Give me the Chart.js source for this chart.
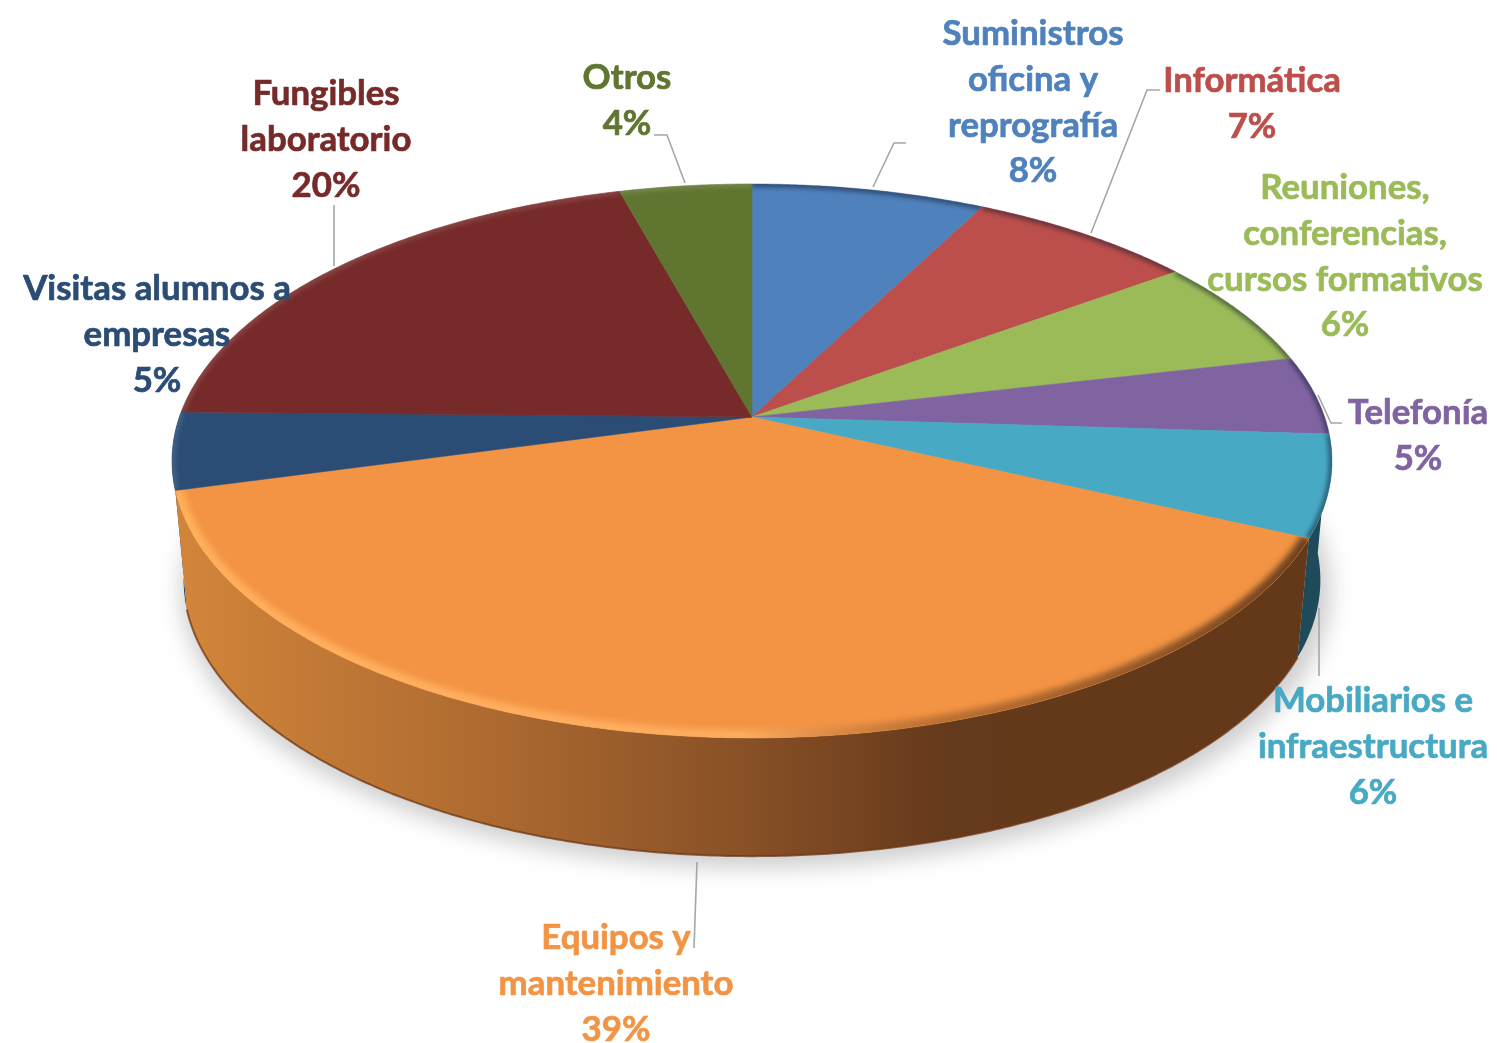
<!DOCTYPE html>
<html>
<head>
<meta charset="utf-8">
<title>Gastos</title>
<script src="https://cdn.jsdelivr.net/npm/chart.js@4"></script>
<style>
  html, body { margin: 0; padding: 0; background: #fff; }
  canvas { display: block; }
</style>
</head>
<body>
<canvas id="pieChart" width="1497" height="1043"></canvas>
<script>
const categories = [
  'Suministros\noficina y\nreprografía',
  'Informática',
  'Reuniones,\nconferencias,\ncursos formativos',
  'Telefonía',
  'Mobiliarios e\ninfraestructura',
  'Equipos y\nmantenimiento',
  'Visitas alumnos a\nempresas',
  'Fungibles\nlaboratorio',
  'Otros'
];
// slice sizes as measured on the picture; the labels print the rounded figure
const values = [7.6, 7.4, 6.4, 4.6, 5.9, 38.9, 4.5, 20.4, 4.3];
const percentLabels = ['8%', '7%', '6%', '5%', '6%', '39%', '5%', '20%', '4%'];
const colors = ['#4f81bd', '#bc4e4b', '#9bbb59', '#8064a2', '#48a9c4', '#f39444', '#2b4c74', '#772a2a', '#5f7530'];
const sideColors = ['#2c4a6c', '#6c2c2b', '#586a33', '#49395c', '#1f4a5a', null, '#1d3757', '#441818', '#36431b'];

// where each label block sits: centre x, centre y of the first line
const labelPlaces = [[1033, 34], [1252, 81], [1345, 188], [1418, 413], [1373, 701], [616, 938], [157, 289], [326, 94], [627, 78]];
const leaderLines = [
  [[873, 187], [894, 143], [906, 143]],
  [[1091, 233], [1147, 90], [1160, 90]],
  [[1318, 395], [1331, 423], [1342, 423]],
  [[1319, 608], [1319, 676]],
  [[697, 862], [694, 948]],
  [[334, 205], [334, 266]],
  [[685, 183], [667, 135], [654, 135]]
];

// tilted disc: perspective of a flat circle, so the tip is not the ellipse centre
const tip = { x: 752, y: 417 };
const persp = 0.1588, spanX = 572.6, spanY = 270;
const topMidY = 461, bottomMidY = 580, bottomX = 0.98, bottomY = 0.997;

const lineGap = 45.7;

function onTop(a) {
  const th = a + Math.PI / 2;
  const x = Math.sin(th), y = -Math.cos(th);
  const d = 1 - persp * y;
  return { x: tip.x + spanX * x / d, y: tip.y + spanY * y / d };
}

function onBottom(a) {
  const p = onTop(a);
  return { x: tip.x + (p.x - tip.x) * bottomX, y: bottomMidY + (p.y - topMidY) * bottomY };
}

function rimPath(ctx, from, to, fn, first) {
  const n = Math.max(4, Math.ceil(Math.abs(to - from) / 0.008));
  for (let i = 0; i <= n; i++) {
    const p = fn(from + (to - from) * i / n);
    if (i === 0 && first) ctx.moveTo(p.x, p.y);
    else ctx.lineTo(p.x, p.y);
  }
}

function slicePath(ctx, arc) {
  ctx.beginPath();
  ctx.moveTo(tip.x, tip.y);
  rimPath(ctx, arc.startAngle, arc.endAngle, onTop, false);
  ctx.closePath();
}

function sidePath(ctx, from, to) {
  ctx.beginPath();
  rimPath(ctx, from, to, onTop, true);
  rimPath(ctx, to, from, onBottom, false);
  ctx.closePath();
}

function drawShadow(ctx) {
  ctx.save();
  ctx.filter = 'blur(11px)';
  ctx.fillStyle = 'rgba(110,110,115,0.34)';
  ctx.beginPath();
  ctx.ellipse(756, bottomMidY + 11, 575, 277, 0, 0, Math.PI * 2);
  ctx.fill();
  ctx.restore();
}

function drawSides(ctx, arcs) {
  const front = [6, 4, 5];
  front.forEach(i => {
    const arc = arcs[i];
    const from = arc.startAngle, to = arc.endAngle;
    sidePath(ctx, from, to);
    if (sideColors[i]) {
      ctx.fillStyle = sideColors[i];
    } else {
      const g = ctx.createLinearGradient(184, 0, 1300, 0);
      g.addColorStop(0, '#d2853a');
      g.addColorStop(0.283, '#ac6930');
      g.addColorStop(0.507, '#875026');
      g.addColorStop(0.686, '#65391b');
      g.addColorStop(1, '#63391a');
      ctx.fillStyle = g;
    }
    ctx.fill();
    if (!sideColors[i]) {
      ctx.beginPath();
      rimPath(ctx, from, to, onBottom, true);
      ctx.strokeStyle = 'rgba(110,55,20,0.75)';
      ctx.lineWidth = 2;
      ctx.stroke();
    }
  });
}

function drawBevel(ctx, arc, i) {
  ctx.save();
  slicePath(ctx, arc);
  ctx.clip();
  ctx.beginPath();
  rimPath(ctx, arc.startAngle, arc.endAngle, onTop, true);
  if (i === 5) {
    const g = ctx.createLinearGradient(177, 0, 1305, 0);
    g.addColorStop(0, 'rgba(255,176,92,1)');
    g.addColorStop(0.5, 'rgba(255,176,100,0.9)');
    g.addColorStop(0.66, 'rgba(170,100,45,0.7)');
    g.addColorStop(1, 'rgba(95,55,25,0.9)');
    ctx.strokeStyle = g;
    ctx.lineWidth = 16;
    ctx.filter = 'blur(3px)';
  } else {
    const right = onTop((arc.startAngle + arc.endAngle) / 2).x > tip.x;
    ctx.strokeStyle = right ? 'rgba(20,30,50,0.5)' : 'rgba(255,255,255,0.12)';
    ctx.lineWidth = 7;
    ctx.filter = 'blur(2px)';
  }
  ctx.stroke();
  ctx.restore();
}

// takes the angles Chart.js worked out for the slices and draws them tilted
const tiltedPie = {
  id: 'tiltedPie',
  beforeDatasetsDraw(chart) {
    const ctx = chart.ctx;
    const arcs = chart.getDatasetMeta(0).data;
    ctx.save();
    drawShadow(ctx);
    drawSides(ctx, arcs);
    arcs.forEach((arc, i) => {
      slicePath(ctx, arc);
      ctx.fillStyle = colors[i];
      ctx.strokeStyle = colors[i];
      ctx.lineWidth = 0.6;
      ctx.fill();
      ctx.stroke();
    });
    arcs.forEach((arc, i) => drawBevel(ctx, arc, i));
    ctx.restore();
    return false;
  },
  afterDraw(chart) {
    const ctx = chart.ctx;
    ctx.save();
    ctx.strokeStyle = '#a6a6a6';
    ctx.lineWidth = 1.6;
    leaderLines.forEach(pts => {
      ctx.beginPath();
      pts.forEach((p, i) => i ? ctx.lineTo(p[0], p[1]) : ctx.moveTo(p[0], p[1]));
      ctx.stroke();
    });
    ctx.font = 'bold 34.8px Lato, "Open Sans", sans-serif';
    ctx.textAlign = 'center';
    ctx.textBaseline = 'middle';
    ctx.lineWidth = 0.7;
    ctx.lineJoin = 'round';
    categories.forEach((name, i) => {
      const lines = name.split('\n').concat(percentLabels[i]);
      ctx.fillStyle = colors[i];
      ctx.strokeStyle = colors[i];
      lines.forEach((line, k) => {
        ctx.fillText(line, labelPlaces[i][0], labelPlaces[i][1] + k * lineGap);
        ctx.strokeText(line, labelPlaces[i][0], labelPlaces[i][1] + k * lineGap);
      });
    });
    ctx.restore();
  }
};

new Chart(document.getElementById('pieChart'), {
  type: 'pie',
  data: {
    labels: categories,
    datasets: [{ data: values, backgroundColor: colors, borderWidth: 0 }]
  },
  options: {
    responsive: false,
    animation: false,
    events: [],
    plugins: {
      legend: { display: false },
      tooltip: { enabled: false }
    }
  },
  plugins: [tiltedPie]
});
</script>
</body>
</html>
